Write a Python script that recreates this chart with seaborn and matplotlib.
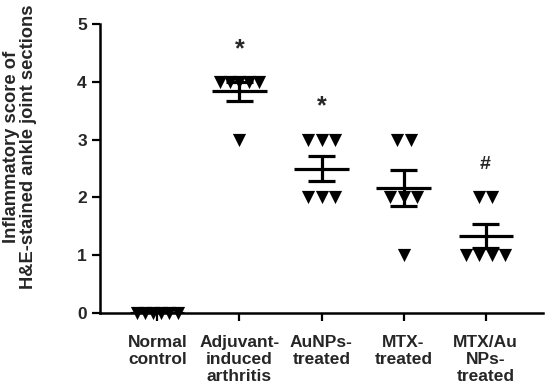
import numpy as np
import pandas as pd
import matplotlib
matplotlib.use("Agg")
import matplotlib.pyplot as plt
import seaborn as sns

groups = ["Normal\ncontrol", "Adjuvant-\ninduced\narthritis", "AuNPs-\ntreated",
          "MTX-\ntreated", "MTX/Au\nNPs-\ntreated"]
normal_scores = [0, 0, 0, 0, 0, 0]
aia_scores = [4, 4, 4, 4, 4, 3]
aunps_scores = [3, 3, 3, 2, 2, 2]
mtx_scores = [3, 3, 2, 2, 2, 1]
mtx_aunps_scores = [2, 2, 1, 1, 1, 1]
marks = ["", "*", "*", "", "#"]
mark_y = [None, 4.57, 3.57, None, 2.57]
y_ticks = [0, 1, 2, 3, 4, 5]

# horizontal spacing of tied points in each group (category units)
swarm_step = [0.098, 0.117, 0.17, 0.17, 0.16]

all_scores = [normal_scores, aia_scores, aunps_scores, mtx_scores, mtx_aunps_scores]

rows = []
for i, s in enumerate(all_scores):
    s = np.asarray(s)
    for v in np.unique(s):
        n = int((s == v).sum())
        offs = (np.arange(n) - (n - 1) / 2) * swarm_step[i]
        for o in offs:
            rows.append({"x": i + o, "score": v})
df = pd.DataFrame(rows)

sns.set_style("ticks")
plt.rcParams["font.family"] = ["Liberation Sans", "DejaVu Sans"]
plt.rcParams["font.weight"] = "bold"

fig = plt.figure(figsize=(5.46, 3.91), dpi=100)
ax = fig.add_axes([100 / 546, 78 / 391, 443 / 546, 289 / 391])

sns.scatterplot(data=df, x="x", y="score", marker="v", color="black",
                s=9.5 ** 2, linewidth=0, ax=ax, clip_on=False, zorder=4)

# mean +/- SEM
for i, s in enumerate(all_scores):
    s = np.asarray(s, dtype=float)
    m = s.mean()
    sem = s.std(ddof=1) / np.sqrt(len(s))
    ax.hlines(m, i - 0.33, i + 0.33, color="black", lw=2.3, zorder=3)
    if sem > 0:
        ax.vlines(i, m - sem, m + sem, color="black", lw=2.3, zorder=3)
        ax.hlines([m - sem, m + sem], i - 0.165, i + 0.165, color="black", lw=2.3, zorder=3)
    if marks[i]:
        ax.text(i, mark_y[i], marks[i], ha="center", va="center",
                fontsize=18 if marks[i] == "*" else 14, fontweight="bold")

ax.set_xlim(-0.7, 4.7)
ax.set_ylim(0, 5)
ax.set_xticks(range(len(groups)))
ax.set_xticklabels(groups, linespacing=1.15)
ax.set_yticks(y_ticks)
ax.tick_params(axis="both", width=1.6, length=6, labelsize=12.5, color="black")
ax.tick_params(axis="x", labelsize=12.5, pad=10)
ax.set_xlabel("")
ax.set_ylabel("Inflammatory score of\nH&E-stained ankle joint sections",
              fontsize=13.2, fontweight="bold", linespacing=1.0)
ax.yaxis.set_label_coords(-0.142, 0.575)
for side in ["left", "bottom"]:
    ax.spines[side].set_linewidth(1.8)
    ax.spines[side].set_color("black")
sns.despine(ax=ax)

fig.savefig("out.png", dpi=100)
